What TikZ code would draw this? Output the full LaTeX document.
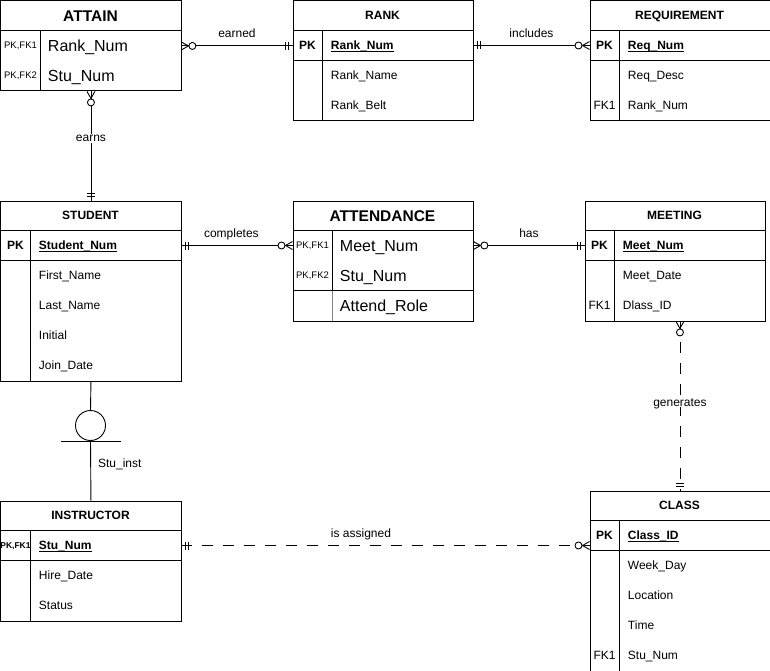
\documentclass[tikz,border=0pt]{standalone}
\usepackage{fontspec}
\setmainfont{Liberation Sans}
\usetikzlibrary{positioning}
\tikzstyle{entity} = [draw, anchor=north west, inner sep=0pt, minimum width=180pt]
\tikzstyle{attr} = [anchor=west, inner sep=0pt, font=\fontsize{12}{14}\selectfont, text height=8.6pt, text depth=0pt]
\tikzstyle{bigattr} = [attr, font=\fontsize{16}{19}\selectfont, text height=11.5pt]
\tikzstyle{key} = [inner sep=0pt, font=\fontsize{12}{14}\selectfont, text height=8.6pt, text depth=0pt]
\tikzstyle{tinykey} = [key, font=\fontsize{9.5}{11}\selectfont, text height=6.8pt]
\tikzstyle{title} = [key, font=\bfseries\fontsize{12}{14}\selectfont]
\tikzstyle{bigtitle} = [key, font=\bfseries\fontsize{15.5}{18}\selectfont, text height=11.1pt]
\tikzstyle{lbl} = [inner sep=0pt, font=\fontsize{12}{14}\selectfont, text depth=0pt]
\tikzstyle{dashrel} = [dash pattern=on 11pt off 10pt]
\tikzset{
  onlyone/.pic={\draw (4.5,-4) -- (4.5,4) (7.5,-4) -- (7.5,4);},
  zeromany/.pic={\draw (0,-4) -- (7,0) -- (0,4); \draw[fill=white] (11,0) circle (3.5pt);}
}
\newcommand{\pkey}[1]{\textbf{\underline{\smash{#1}}}}

\begin{document}
\begin{tikzpicture}[x=1pt,y=-1pt,line width=0.9pt]
\useasboundingbox (-0.5,-0.5) rectangle (769.5,670.5);

% ATTAIN
\node[entity, minimum height=90pt] (attain) at (0,0) {};
\draw (0,30) -- (180,30);
\draw (40,30) -- (40,90);
\node[bigtitle] (attainT) at (90,15) {ATTAIN};
\node[tinykey] (attainK1) at (20,45) {PK,FK1};
\node[tinykey] (attainK2) at (20,75) {PK,FK2};
\node[bigattr] (attainA1) at (47,45) {Rank\_Num};
\node[bigattr] (attainA2) at (47,75) {Stu\_Num};

% RANK
\node[entity, minimum height=120pt] (rank) at (292,0) {};
\draw (292,30) -- (472,30);
\draw (292,60) -- (472,60);
\draw (322,30) -- (322,120);
\node[title] (rankT) at (382,15) {RANK};
\node[key] (rankK1) at (307,45) {\textbf{PK}};
\node[attr] (rankA1) at (330,45) {\pkey{Rank\_Num}};
\node[attr] (rankA2) at (330,75) {Rank\_Name};
\node[attr] (rankA3) at (330,105) {Rank\_Belt};

% REQUIREMENT
\node[entity, minimum height=120pt] (req) at (589,0) {};
\draw (589,30) -- (769,30);
\draw (589,60) -- (769,60);
\draw (619,30) -- (619,120);
\node[title] (reqT) at (679,15) {REQUIREMENT};
\node[key] (reqK1) at (604,45) {\textbf{PK}};
\node[key] (reqK3) at (604,105) {FK1};
\node[attr] (reqA1) at (627,45) {\pkey{Req\_Num}};
\node[attr] (reqA2) at (627,75) {Req\_Desc};
\node[attr] (reqA3) at (627,105) {Rank\_Num};

% STUDENT
\node[entity, minimum height=180pt] (student) at (0,200) {};
\draw (0,230) -- (180,230);
\draw (0,260) -- (180,260);
\draw (30,230) -- (30,380);
\node[title] (studentT) at (90,215) {STUDENT};
\node[key] (studentK1) at (15,245) {\textbf{PK}};
\node[attr] (studentA1) at (38,245) {\pkey{Student\_Num}};
\node[attr] (studentA2) at (38,275) {First\_Name};
\node[attr] (studentA3) at (38,305) {Last\_Name};
\node[attr] (studentA4) at (38,335) {Initial};
\node[attr] (studentA5) at (38,365) {Join\_Date};

% ATTENDANCE
\node[entity, minimum height=120pt] (attend) at (292,200) {};
\draw (292,230) -- (472,230);
\draw (292,290) -- (472,290);
\draw (332,230) -- (332,290);
\draw[gray] (332,290) -- (332,320);
\node[bigtitle] (attendT) at (382,215) {ATTENDANCE};
\node[tinykey] (attendK1) at (312,245) {PK,FK1};
\node[tinykey] (attendK2) at (312,275) {PK,FK2};
\node[bigattr] (attendA1) at (339,245) {Meet\_Num};
\node[bigattr] (attendA2) at (339,275) {Stu\_Num};
\node[bigattr] (attendA3) at (339,305) {Attend\_Role};

% MEETING
\node[entity, minimum height=120pt] (meeting) at (584,200) {};
\draw (584,230) -- (764,230);
\draw (584,260) -- (764,260);
\draw (614,230) -- (614,320);
\node[title] (meetingT) at (674,215) {MEETING};
\node[key] (meetingK1) at (599,245) {\textbf{PK}};
\node[key] (meetingK3) at (599,305) {FK1};
\node[attr] (meetingA1) at (622,245) {\pkey{Meet\_Num}};
\node[attr] (meetingA2) at (622,275) {Meet\_Date};
\node[attr] (meetingA3) at (622,305) {Dlass\_ID};

% INSTRUCTOR
\node[entity, minimum height=120pt] (instructor) at (0,500) {};
\draw (0,530) -- (180,530);
\draw (0,560) -- (180,560);
\draw (30,530) -- (30,620);
\node[title] (instructorT) at (90,515) {INSTRUCTOR};
\node[tinykey, font=\bfseries\fontsize{8.5}{10}\selectfont] (instructorK1) at (15,545) {PK,FK1};
\node[attr] (instructorA1) at (38,545) {\pkey{Stu\_Num}};
\node[attr] (instructorA2) at (38,575) {Hire\_Date};
\node[attr] (instructorA3) at (38,605) {Status};

% CLASS
\node[entity, minimum height=180pt] (class) at (589,490) {};
\draw (589,520) -- (769,520);
\draw (589,550) -- (769,550);
\draw (619,520) -- (619,670);
\node[title] (classT) at (679,505) {CLASS};
\node[key] (classK1) at (604,535) {\textbf{PK}};
\node[key] (classK5) at (604,655) {FK1};
\node[attr] (classA1) at (627,535) {\pkey{Class\_ID}};
\node[attr] (classA2) at (627,565) {Week\_Day};
\node[attr] (classA3) at (627,595) {Location};
\node[attr] (classA4) at (627,625) {Time};
\node[attr] (classA5) at (627,655) {Stu\_Num};

% subtype
\node[draw, circle, minimum size=30pt, inner sep=0pt] (sub) at (90,425) {};
\draw ([xshift=-30pt]sub.south) -- ([xshift=30pt]sub.south);
\draw (student.south) -- (sub.north);
\draw (sub.south) -- (instructor.north) node[lbl, pos=0.38, right=7pt] {Stu\_inst};

% relationships
\draw (attain.east) -- (attain.east -| rank.west) node[lbl, midway, above=8pt] {earned};
\pic at (attain.east) {zeromany};
\pic[rotate=180] at (attain.east -| rank.west) {onlyone};

\draw (rank.east |- rankA1) -- (req.west |- rankA1) node[lbl, midway, above=8pt] {includes};
\pic at (rank.east |- rankA1) {onlyone};
\pic[rotate=180] at (req.west |- rankA1) {zeromany};

\draw (attain.south) -- (student.north) node[lbl, pos=0.43, fill=white, inner sep=1pt] {earns};
\pic[rotate=-90] at (attain.south) {zeromany};
\pic[rotate=90] at (student.north) {onlyone};

\draw (student.east |- studentA1) -- (attend.west |- studentA1) node[lbl, pos=0.45, above=8pt] {completes};
\pic at (student.east |- studentA1) {onlyone};
\pic[rotate=180] at (attend.west |- studentA1) {zeromany};

\draw (attend.east |- attendA1) -- (meeting.west |- attendA1) node[lbl, midway, above=8pt] {has};
\pic at (attend.east |- attendA1) {zeromany};
\pic[rotate=180] at (meeting.west |- attendA1) {onlyone};

\draw[dashrel] (class.north |- meeting.south) -- (class.north) node[lbl, pos=0.48, fill=white, inner sep=1pt] {generates};
\pic[rotate=-90] at (class.north |- meeting.south) {zeromany};
\pic[rotate=90] at (class.north) {onlyone};

\draw[dashrel] (instructor.east |- instructorA1) -- (class.west |- instructorA1) node[lbl, pos=0.44, above=8pt] {is assigned};
\pic at (instructor.east |- instructorA1) {onlyone};
\pic[rotate=180] at (class.west |- instructorA1) {zeromany};
\end{tikzpicture}
\end{document}
